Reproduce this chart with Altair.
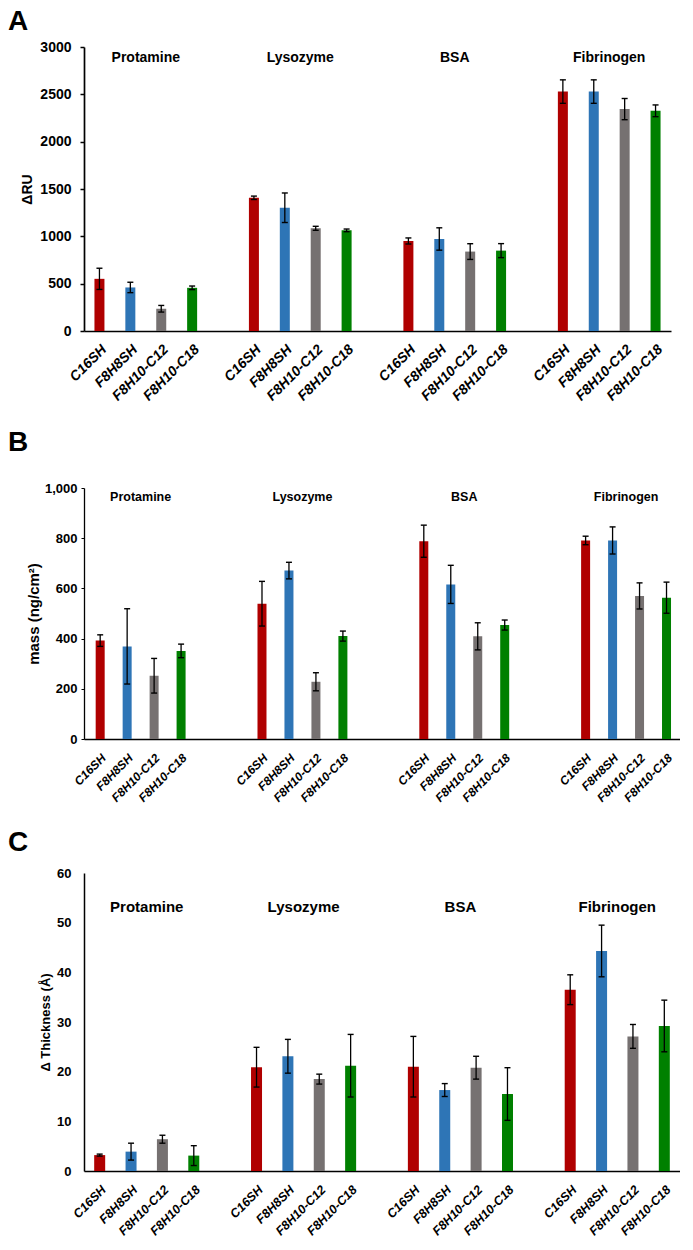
import altair as alt
import pandas as pd

proteins = ["Protamine", "Lysozyme", "BSA", "Fibrinogen"]
surfaces = ["C16SH", "F8H8SH", "F8H10-C12", "F8H10-C18"]
bar_colors = ["#B00000", "#2E75B6", "#767171", "#008000"]

# Panel A: SPR response (ΔRU)
ru_mean = [551, 460, 235, 456, 1407, 1302, 1085, 1063, 951, 972, 839, 849, 2529, 2529, 2344, 2326]
ru_err = [112, 55, 35, 19, 18, 156, 21, 14, 32, 118, 83, 74, 124, 124, 112, 62]

# Panel B: adsorbed mass (ng/cm²)
mass_mean = [392, 369, 252, 351, 539, 671, 228, 410, 788, 616, 409, 454, 791, 791, 570, 563]
mass_err = [23, 150, 69, 27, 89, 33, 36, 20, 64, 76, 54, 20, 17, 54, 52, 62]

# Panel C: thickness change (Å)
thick_mean = [3.2, 3.9, 6.4, 3.1, 20.9, 23.1, 18.5, 21.2, 21.0, 16.3, 20.8, 15.5, 36.5, 44.3, 27.1, 29.2]
thick_err = [0.2, 1.7, 0.8, 2.0, 4.0, 3.4, 1.0, 6.3, 6.1, 1.3, 2.3, 5.3, 3.0, 5.2, 2.4, 5.2]

FONT = "Liberation Sans"


def slot_keys(gap_slots):
    keys = []
    for gi, p in enumerate(proteins):
        if gi > 0:
            keys += [f"gap{gi}_{k}" for k in range(gap_slots)]
        keys += [f"{p}|{s}" for s in surfaces]
    return keys


def bar_table(mean, err):
    rows = []
    i = 0
    for p in proteins:
        for s in surfaces:
            rows.append(dict(key=f"{p}|{s}", protein=p, surface=s,
                             mean=mean[i], lo=mean[i] - err[i], hi=mean[i] + err[i]))
            i += 1
    return pd.DataFrame(rows)


def panel(letter, letter_offset, mean, err, gap_slots, width, height, y_domain,
          y_axis_kw, x_axis_kw, x_scale_kw, bar_size, title_value, title_size):
    df = bar_table(mean, err)
    keys = slot_keys(gap_slots)
    step = width / (len(keys) + 2 * x_scale_kw.get("paddingOuter", 0))
    titles = pd.DataFrame({"key": [f"{p}|{surfaces[1]}" for p in proteins],
                           "label": proteins,
                           "ty": [title_value] * len(proteins)})

    x_axis = alt.Axis(title=None, labelAngle=-45, labelAlign="right", ticks=False,
                      labelExpr="indexof(datum.value, '|') > 0 ? split(datum.value, '|')[1] : ''",
                      labelFont=FONT, labelFontWeight="bold", labelFontStyle="italic",
                      labelColor="black", domainColor="black",
                      **x_axis_kw)
    x_scale = alt.Scale(domain=keys, paddingInner=0, **x_scale_kw)
    y_axis = alt.Axis(grid=False, labelFont=FONT, labelFontWeight="bold",
                      titleFont=FONT, titleFontWeight="bold",
                      labelColor="black", titleColor="black", domainColor="black",
                      tickColor="black", **y_axis_kw)
    y_scale = alt.Scale(domain=list(y_domain), nice=False)

    bars = alt.Chart(df).mark_bar(size=bar_size).encode(
        x=alt.X("key:N", scale=x_scale, axis=x_axis),
        y=alt.Y("mean:Q", scale=y_scale, axis=y_axis),
        color=alt.Color("surface:N", scale=alt.Scale(domain=surfaces, range=bar_colors), legend=None),
    )
    rules = alt.Chart(df).mark_rule(color="black", strokeWidth=1.3).encode(
        x=alt.X("key:N"), y=alt.Y("lo:Q"), y2="hi:Q")
    cap_hi = alt.Chart(df).mark_point(shape="M-1,0H1", size=36, filled=False,
                                      color="black", strokeWidth=1.4, opacity=1).encode(
        x=alt.X("key:N"), y=alt.Y("hi:Q"))
    cap_lo = alt.Chart(df).mark_point(shape="M-1,0H1", size=36, filled=False,
                                      color="black", strokeWidth=1.4, opacity=1).encode(
        x=alt.X("key:N"), y=alt.Y("lo:Q"))
    text = alt.Chart(titles).mark_text(font=FONT, fontWeight="bold", fontSize=title_size,
                                       color="black", baseline="middle", align="center",
                                       dx=round(step / 2, 2)).encode(
        x=alt.X("key:N"), y=alt.Y("ty:Q"), text="label:N")
    return alt.layer(bars, rules, cap_hi, cap_lo, text).properties(
        width=width, height=height,
        title=alt.TitleParams(text=letter, anchor="start", frame="group", dx=-76,
                              offset=letter_offset, fontSize=28, font=FONT,
                              fontWeight="bold", color="black"))


pA = panel("A", 4, ru_mean, ru_err, 1, 587, 284, (0, 3000),
           dict(title="ΔRU", values=[0, 500, 1000, 1500, 2000, 2500, 3000], format="d",
                tickSize=4, tickWidth=1.5, labelFontSize=14, titleFontSize=14,
                labelPadding=9, titlePadding=5, domainWidth=1.7),
           dict(domainWidth=1.7, labelFontSize=14, labelPadding=11),
           dict(paddingOuter=0),
           10, 2884, 14)

pB = panel("B", 25, mass_mean, mass_err, 2, 596, 251, (0, 1000),
           dict(title="mass (ng/cm²)", values=list(range(0, 1001, 50)),
                labelExpr="datum.value % 100 == 0 ? format(datum.value, ',') : ''",
                tickSize=3, tickWidth=1, labelFontSize=13, titleFontSize=15,
                labelPadding=4, titlePadding=3, domainWidth=1.3),
           dict(domainWidth=1.3, labelFontSize=12, labelPadding=13),
           dict(paddingOuter=0.05, align=1),
           9, 964, 12.5)

pC = panel("C", 10, thick_mean, thick_err, 1, 596, 298, (0, 60),
           dict(title="Δ Thickness (Å)", values=[0, 10, 20, 30, 40, 50, 60],
                ticks=False, labelFontSize=13, titleFontSize=13,
                labelPadding=13, titlePadding=4, domainWidth=1.5),
           dict(domainWidth=1.5, labelFontSize=12.5, labelPadding=12),
           dict(paddingOuter=0),
           11, 53.1, 15)

chart = alt.vconcat(pA, pB, pC, spacing=25).properties(padding=0).configure_view(stroke=None)

chart.save("out.html", embed_options={"renderer": "svg", "actions": False})
